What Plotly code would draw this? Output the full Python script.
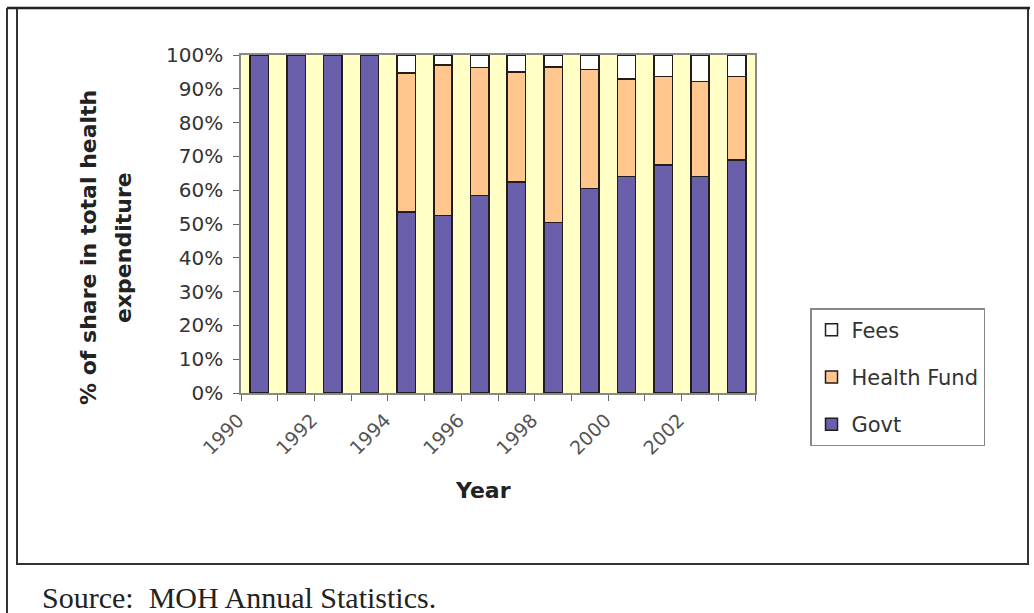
import plotly.graph_objects as go

years = [1990, 1991, 1992, 1993, 1994, 1995, 1996, 1997, 1998, 1999, 2000, 2001, 2002, 2003]
govt = [100, 100, 100, 100, 53.5, 52.5, 58.5, 62.5, 50.5, 60.5, 64.0, 67.5, 64.0, 69.0]
health_fund = [None, None, None, None, 41.2, 44.5, 37.8, 32.5, 46.0, 35.2, 28.9, 26.1, 28.2, 24.6]
fees = [None, None, None, None, 5.3, 3.0, 3.7, 5.0, 3.5, 4.3, 7.1, 6.4, 7.8, 6.4]
label_years = years[::2]
y_ticks = list(range(0, 101, 10))

W, H = 1034, 613
L, R, T, B = 241, 755, 55, 393
SANS = "DejaVu Sans, Verdana, Arial"


def px_x(p):
    return (p - L) / (R - L)


def px_y(p):
    return (B - p) / (B - T)


outline = dict(color="rgb(35,28,28)", width=1.5)
fig = go.Figure()
fig.add_trace(go.Bar(x=years, y=govt, name="Govt", legendgroup="g", legendrank=3,
                     marker=dict(color="#6A5FAA", line=outline), width=0.5))
fig.add_trace(go.Bar(x=years, y=health_fund, name="Health Fund", legendgroup="h", legendrank=2,
                     marker=dict(color="#FFC78E", line=outline), width=0.5))
fig.add_trace(go.Bar(x=years, y=fees, name="Fees", legendgroup="f", legendrank=1,
                     marker=dict(color="#FFFFFF", line=outline), width=0.5))

boundaries = [y - 0.5 for y in years] + [years[-1] + 0.5]

fig.update_layout(
    width=W, height=H,
    margin=dict(l=L, r=W - R, t=T, b=H - B, autoexpand=False),
    barmode="stack",
    paper_bgcolor="white",
    plot_bgcolor="#FFFFC6",
    font=dict(family=SANS, size=20, color="#333"),
    showlegend=True,
    legend=dict(
        x=px_x(810), y=px_y(308), xanchor="left", yanchor="top",
        traceorder="grouped", tracegroupgap=17,
        bgcolor="white", bordercolor="#888", borderwidth=1.5,
        font=dict(family=SANS, size=21, color="#333"), itemwidth=30,
    ),
    xaxis=dict(
        range=[years[0] - 0.5, years[-1] + 0.5],
        tickmode="array", tickvals=label_years, ticktext=[str(y) for y in label_years],
        tickangle=-45, ticks="", ticklabelshift=-21, ticklabelstandoff=7,
        tickfont=dict(family=SANS, size=19, color="#555"),
        showline=True, linecolor="#888", linewidth=1.5, mirror=True,
        showgrid=False, zeroline=False,
        minor=dict(tickmode="array", tickvals=boundaries, ticks="outside",
                   ticklen=6, tickcolor="#666", tickwidth=1.2, showgrid=False),
    ),
    yaxis=dict(
        range=[0, 100], tickmode="array", tickvals=y_ticks,
        ticktext=[f"{v}%" for v in y_ticks],
        ticks="outside", ticklen=6, tickcolor="#666", tickwidth=1.2,
        ticklabelstandoff=6,
        tickfont=dict(family=SANS, size=20, color="#333"),
        showline=True, linecolor="#888", linewidth=1.5, mirror=True,
        showgrid=False, zeroline=False,
    ),
    annotations=[
        dict(text="<b>% of share in total health</b>", textangle=-90,
             xref="paper", yref="paper", x=px_x(89), y=px_y(248),
             xanchor="center", yanchor="middle", showarrow=False,
             font=dict(family=SANS, size=22, color="#222")),
        dict(text="<b>expenditure</b>", textangle=-90,
             xref="paper", yref="paper", x=px_x(124), y=px_y(248),
             xanchor="center", yanchor="middle", showarrow=False,
             font=dict(family=SANS, size=22, color="#222")),
        dict(text="<b>Year</b>", xref="paper", yref="paper",
             x=px_x(483), y=px_y(490), xanchor="center", yanchor="middle",
             showarrow=False, font=dict(family=SANS, size=22, color="#222")),
        dict(text="Source:  MOH Annual Statistics.", xref="paper", yref="paper",
             x=px_x(40), y=px_y(597), xanchor="left", yanchor="middle",
             showarrow=False,
             font=dict(family="Liberation Serif, Times New Roman", size=30, color="#222")),
    ],
    shapes=[
        dict(type="rect", xref="paper", yref="paper",
             x0=px_x(17), x1=px_x(1028), y0=px_y(8), y1=px_y(564),
             line=dict(color="#333", width=2), layer="below"),
        dict(type="line", xref="paper", yref="paper",
             x0=px_x(7), x1=px_x(7), y0=px_y(8), y1=px_y(613),
             line=dict(color="#333", width=2)),
        dict(type="line", xref="paper", yref="paper",
             x0=px_x(7), x1=px_x(1030), y0=px_y(8), y1=px_y(8),
             line=dict(color="#222", width=2.5)),
    ],
)

fig.write_html("out.html")
